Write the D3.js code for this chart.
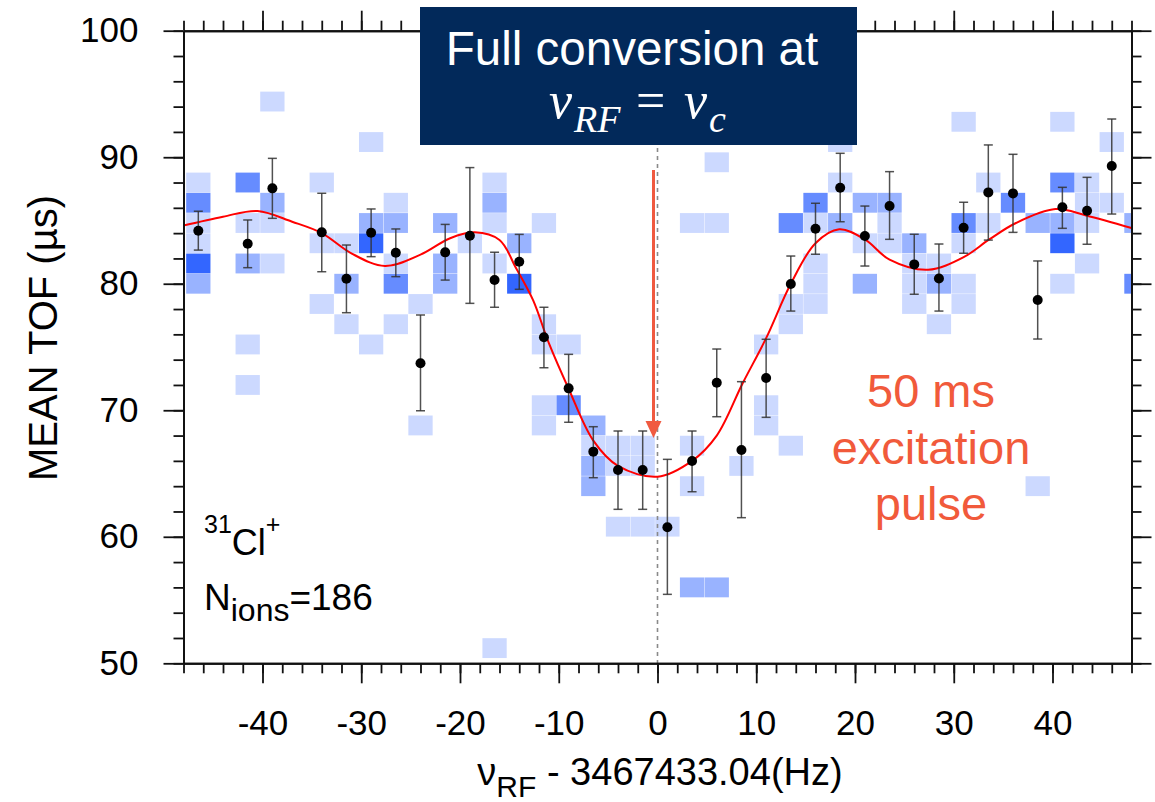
<!DOCTYPE html>
<html>
<head>
<meta charset="utf-8">
<script src="https://cdn.jsdelivr.net/npm/d3@7"></script>
<style>
  body { margin: 0; background: #ffffff; }
</style>
</head>
<body>
<svg id="chart" width="1155" height="802" font-family="Liberation Sans, Arial, Helvetica, sans-serif"></svg>
<script>
// ---- Mean time of flight per RF frequency step (with 1-sigma bars) ----
const pointFreq = [-46.5, -41.5, -39, -34, -31.5, -29, -26.5, -24, -21.5, -19, -16.5, -14, -11.5, -9, -6.5, -4, -1.5, 1,
                   3.5, 6, 8.5, 11, 13.5, 16, 18.5, 21, 23.5, 26, 28.5, 31, 33.5, 36, 38.5, 41, 43.5, 46];
const pointTof  = [84.19, 83.16, 87.54, 84.06, 80.40, 84.03, 82.45, 73.71, 82.48, 83.80, 80.29, 81.74, 75.77, 71.73, 66.73, 65.28, 65.28, 60.75,
                   65.99, 72.18, 66.86, 72.55, 79.98, 84.35, 87.59, 83.77, 86.14, 81.53, 80.42, 84.43, 87.22, 87.14, 78.71, 86.04, 85.77, 89.30];
const errLow    = [82.66, 81.27, 85.17, 80.95, 77.71, 82.14, 80.56, 69.96, 80.29, 78.45, 78.14, 79.56, 73.36, 69.05, 64.67, 62.17, 62.17, 55.45,
                   63.56, 69.49, 61.51, 69.44, 77.84, 82.33, 84.90, 81.40, 83.51, 79.17, 77.84, 82.41, 83.45, 84.06, 75.63, 84.38, 83.12, 85.51];
const errHigh   = [85.73, 85.04, 89.91, 87.15, 83.06, 85.91, 84.33, 77.53, 84.69, 89.18, 82.49, 83.90, 78.14, 74.42, 68.70, 68.36, 68.36, 66.12,
                   68.36, 74.84, 72.26, 75.61, 82.19, 86.36, 90.31, 86.14, 88.86, 83.91, 83.14, 86.44, 90.97, 90.23, 81.80, 87.62, 88.41, 93.02];

// ---- Fitted resonance line ----
const fitFreq = [-48, -44, -40.5, -37, -34, -31, -27.6, -24, -21, -18.5, -16, -14.3, -12.6, -11, -9, -6.5, -4, 0,
                 3.5, 6, 8.6, 11, 13.5, 16, 18.4, 21, 23.5, 27.4, 31, 33.6, 36.3, 40.3, 43.4, 48];
const fitTof  = [84.6, 85.3, 85.75, 84.9, 84.0, 82.4, 81.4, 82.3, 83.6, 84.06, 83.45, 81.2, 78.7, 75.3, 71.7, 67.6, 65.6, 64.75,
                 66.0, 68.0, 72.1, 75.7, 80.0, 83.2, 84.3, 83.5, 81.9, 81.1, 82.1, 83.5, 84.8, 85.9, 85.4, 84.4];

// ---- Single-ion TOF histogram (2.5 Hz x 1.6 us bins, ion counts) ----
const cellFreq = [
  -46.5, -46.5, -46.5, -46.5, -46.5, -46.5,
  -41.5, -41.5, -41.5, -41.5, -41.5,
  -39, -39, -39, -39,
  -34, -34, -34,
  -31.5, -31.5, -31.5,
  -29, -29, -29, -29,
  -26.5, -26.5, -26.5, -26.5, -26.5,
  -24, -24,
  -21.5, -21.5, -21.5,
  -19,
  -16.5, -16.5, -16.5, -16.5, -16.5,
  -14, -14,
  -11.5, -11.5, -11.5, -11.5, -11.5,
  -9, -9,
  -6.5, -6.5, -6.5, -6.5,
  -4, -4, -4,
  -1.5, -1.5, -1.5,
  1,
  3.5, 3.5, 3.5, 3.5,
  6, 6, 6,
  8.5,
  11, 11, 11,
  13.5, 13.5, 13.5, 13.5,
  16, 16, 16, 16, 16,
  18.5, 18.5, 18.5,
  21, 21, 21,
  23.5, 23.5, 23.5,
  26, 26, 26, 26,
  28.5, 28.5, 28.5,
  31, 31, 31, 31, 31,
  33.5, 33.5,
  36,
  38.5, 38.5,
  41, 41, 41, 41, 41,
  43.5, 43.5, 43.5, 43.5,
  46, 46,
  48.5, 48.5
];
const cellTof = [
  88.0, 86.4, 84.8, 83.2, 81.6, 80.0,
  88.0, 84.8, 81.6, 75.2, 72.0,
  94.4, 86.4, 84.8, 81.6,
  88.0, 83.2, 78.4,
  83.2, 80.0, 76.8,
  91.2, 84.8, 83.2, 75.2,
  86.4, 84.8, 81.6, 80.0, 76.8,
  78.4, 68.8,
  84.8, 81.6, 80.0,
  83.2,
  88.0, 86.4, 84.8, 81.6, 51.2,
  83.2, 80.0,
  84.8, 76.8, 75.2, 70.4, 68.8,
  75.2, 70.4,
  68.8, 67.2, 65.6, 64.0,
  67.2, 65.6, 60.8,
  67.2, 65.6, 60.8,
  60.8,
  84.8, 67.2, 64.0, 56.0,
  89.6, 84.8, 56.0,
  65.6,
  75.2, 70.4, 68.8,
  84.8, 78.4, 76.8, 67.2,
  86.4, 84.8, 81.6, 80.0, 78.4,
  91.2, 88.0, 84.8,
  86.4, 83.2, 80.0,
  86.4, 84.8, 83.2,
  83.2, 81.6, 80.0, 78.4,
  81.6, 80.0, 76.8,
  92.8, 84.8, 83.2, 80.0, 78.4,
  88.0, 84.8,
  86.4,
  84.8, 64.0,
  92.8, 88.0, 84.8, 83.2, 80.0,
  88.0, 86.4, 84.8, 81.6,
  91.2, 86.4,
  84.8, 80.0
];
const cellCount = [
  1, 3, 1, 1, 4, 2,
  3, 1, 2, 1, 1,
  1, 2, 1, 1,
  1, 1, 1,
  1, 2, 1,
  1, 2, 4, 1,
  1, 2, 1, 3, 1,
  1, 1,
  2, 2, 2,
  1,
  1, 2, 1, 1, 1,
  2, 4,
  1, 1, 1, 1, 1,
  1, 3,
  2, 1, 2, 2,
  1, 1, 1,
  1, 1, 1,
  1,
  1, 1, 1, 2,
  1, 1, 2,
  1,
  1, 1, 1,
  3, 1, 1, 1,
  3, 1, 1, 1, 1,
  1, 1, 2,
  2, 1, 2,
  2, 1, 1,
  2, 1, 1, 1,
  1, 2, 1,
  1, 3, 1, 1, 1,
  1, 1,
  3,
  2, 1,
  1, 3, 2, 4, 1,
  1, 1, 1, 1,
  1, 1,
  2, 3
];
const freqBinWidth = 2.5;
const tofBinWidth = 1.6;

// ---- Axis ticks ----
const xMajorTicks = [-40, -30, -20, -10, 0, 10, 20, 30, 40];
const xMinorTicks = d3.range(-48, 48.01, 2);
const yMajorTicks = [50, 60, 70, 80, 90, 100];
const yMinorTicks = d3.range(50, 100.01, 2);

// ---- Layout ----
const svg = d3.select("#chart");
const plotLeft = 183.5, plotRight = 1131.5, plotTop = 30.7, plotBottom = 663.3;

const x = d3.scaleLinear().domain([-48, 48]).range([plotLeft, plotRight]);
const y = d3.scaleLinear().domain([50, 100]).range([plotBottom, plotTop]);

svg.append("defs").append("clipPath").attr("id", "plotClip")
  .append("rect").attr("x", plotLeft).attr("y", plotTop)
  .attr("width", plotRight - plotLeft).attr("height", plotBottom - plotTop);

// ---- Histogram cells ----
const cellColor = c => d3.interpolateRgb("#ffffff", "#0040ff")(Math.min(c, 5) * 0.2);
const cells = cellFreq.map((f, i) => ({ f, t: cellTof[i], c: cellCount[i] }));
const inset = 0.2;
svg.append("g").attr("clip-path", "url(#plotClip)")
  .selectAll("rect").data(cells).join("rect")
  .attr("x", d => x(d.f - freqBinWidth / 2) + inset)
  .attr("width", d => x(d.f + freqBinWidth / 2) - x(d.f - freqBinWidth / 2) - 2 * inset)
  .attr("y", d => y(d.t + tofBinWidth / 2) + inset)
  .attr("height", d => y(d.t - tofBinWidth / 2) - y(d.t + tofBinWidth / 2) - 2 * inset)
  .attr("fill", d => cellColor(d.c));

// ---- Centre-frequency marker ----
svg.append("line")
  .attr("x1", x(0)).attr("x2", x(0))
  .attr("y1", 140).attr("y2", plotBottom)
  .attr("stroke", "#8a8a8a").attr("stroke-width", 1.6).attr("stroke-dasharray", "4,4");

// ---- Fit line ----
const fitLine = d3.line().x(d => x(d[0])).y(d => y(d[1])).curve(d3.curveCatmullRom.alpha(0.5));
svg.append("path")
  .datum(fitFreq.map((f, i) => [f, fitTof[i]]))
  .attr("d", fitLine)
  .attr("fill", "none").attr("stroke", "#ff0000").attr("stroke-width", 2);

// ---- Error bars and points ----
const pts = pointFreq.map((f, i) => ({ f, v: pointTof[i], lo: errLow[i], hi: errHigh[i] }));
const eb = svg.append("g").attr("stroke", "#333333").attr("stroke-width", 1.5).attr("stroke-opacity", 0.85);
eb.selectAll("line.v").data(pts).join("line").attr("class", "v")
  .attr("x1", d => x(d.f)).attr("x2", d => x(d.f)).attr("y1", d => y(d.lo)).attr("y2", d => y(d.hi));
eb.selectAll("line.h").data(pts).join("line").attr("class", "h")
  .attr("x1", d => x(d.f) - 4.5).attr("x2", d => x(d.f) + 4.5).attr("y1", d => y(d.hi)).attr("y2", d => y(d.hi));
eb.selectAll("line.l").data(pts).join("line").attr("class", "l")
  .attr("x1", d => x(d.f) - 4.5).attr("x2", d => x(d.f) + 4.5).attr("y1", d => y(d.lo)).attr("y2", d => y(d.lo));
svg.append("g").selectAll("circle").data(pts).join("circle")
  .attr("cx", d => x(d.f)).attr("cy", d => y(d.v)).attr("r", 5).attr("fill", "#000000");

// ---- Axes (ticks outward on all four sides) ----
function styleAxis(g) {
  g.attr("font-family", null);
  g.selectAll(".domain").attr("stroke", "#111").attr("stroke-width", 2);
  g.selectAll(".tick line").attr("stroke", "#111").attr("stroke-width", 1.8);
  g.selectAll(".tick text").attr("fill", "#000").attr("font-size", 35);
}
const fmt = d => d3.format("d")(d).replace("\u2212", "-");

svg.append("g").attr("transform", `translate(0,${plotBottom})`)
  .call(d3.axisBottom(x).tickValues(xMinorTicks).tickSize(10).tickSizeOuter(0).tickFormat(""))
  .call(styleAxis);
svg.append("g").attr("transform", `translate(0,${plotBottom})`)
  .call(d3.axisBottom(x).tickValues(xMajorTicks).tickSize(20).tickSizeOuter(0).tickPadding(27).tickFormat(fmt))
  .call(styleAxis);
svg.append("g").attr("transform", `translate(0,${plotTop})`)
  .call(d3.axisTop(x).tickValues(xMinorTicks).tickSize(10).tickSizeOuter(0).tickFormat(""))
  .call(styleAxis);
svg.append("g").attr("transform", `translate(0,${plotTop})`)
  .call(d3.axisTop(x).tickValues(xMajorTicks).tickSize(20).tickSizeOuter(0).tickFormat(""))
  .call(styleAxis);
svg.append("g").attr("transform", `translate(${plotLeft},0)`)
  .call(d3.axisLeft(y).tickValues(yMinorTicks).tickSize(10).tickSizeOuter(0).tickFormat(""))
  .call(styleAxis);
svg.append("g").attr("transform", `translate(${plotLeft},0)`)
  .call(d3.axisLeft(y).tickValues(yMajorTicks).tickSize(20).tickSizeOuter(0).tickPadding(25).tickFormat(fmt))
  .call(styleAxis);
svg.append("g").attr("transform", `translate(${plotRight},0)`)
  .call(d3.axisRight(y).tickValues(yMinorTicks).tickSize(10).tickSizeOuter(0).tickFormat(""))
  .call(styleAxis);
svg.append("g").attr("transform", `translate(${plotRight},0)`)
  .call(d3.axisRight(y).tickValues(yMajorTicks).tickSize(20).tickSizeOuter(0).tickFormat(""))
  .call(styleAxis);

// ---- Axis titles ----
svg.append("text")
  .attr("transform", "translate(57,338) rotate(-90)")
  .attr("text-anchor", "middle").attr("font-size", 40).attr("fill", "#000")
  .text("MEAN TOF (\u00b5s)");

const xt = svg.append("text").attr("x", 660).attr("y", 785)
  .attr("text-anchor", "middle").attr("font-size", 38).attr("fill", "#000");
xt.append("tspan").text("\u03bd");
xt.append("tspan").attr("font-size", 30).attr("dy", 12).text("RF");
xt.append("tspan").attr("dy", -12).text(" - 3467433.04(Hz)");

// ---- Species / statistics labels ----
const sp = svg.append("text").attr("x", 204).attr("y", 555).attr("fill", "#000").attr("font-size", 36);
sp.append("tspan").attr("font-size", 25).attr("dy", -22).text("31");
sp.append("tspan").attr("dy", 22).text("Cl");
sp.append("tspan").attr("font-size", 25).attr("dy", -22).text("+");

const ni = svg.append("text").attr("x", 204).attr("y", 610).attr("fill", "#000").attr("font-size", 37);
ni.append("tspan").text("N");
ni.append("tspan").attr("font-size", 32).attr("dy", 11).text("ions");
ni.append("tspan").attr("dy", -11).text("=186");

// ---- Excitation note ----
const note = svg.append("text").attr("text-anchor", "middle").attr("fill", "#f15a3b").attr("font-size", 47);
[["50 ms", 407], ["excitation", 464], ["pulse", 520]].forEach(([s, yy]) =>
  note.append("tspan").attr("x", 931).attr("y", yy).text(s));

// ---- Arrow to the minimum ----
const ax = x(0) - 4;
svg.append("line").attr("x1", ax).attr("x2", ax).attr("y1", 170).attr("y2", 424)
  .attr("stroke", "#f05a40").attr("stroke-width", 3);
svg.append("path")
  .attr("d", `M${ax - 8},${421} L${ax + 8},${421} L${ax},${438} Z`)
  .attr("fill", "#f05a40");

// ---- Conversion callout ----
svg.append("rect").attr("x", 420).attr("y", 7).attr("width", 437).attr("height", 138)
  .attr("fill", "#02295a");
svg.append("text").attr("x", 632).attr("y", 65).attr("text-anchor", "middle")
  .attr("fill", "#ffffff").attr("font-size", 47.5).text("Full conversion at");

const mathFont = "Liberation Serif, DejaVu Serif, serif";
function mathPiece(s, xx, yy, size, italic) {
  svg.append("text").attr("x", xx).attr("y", yy).attr("fill", "#ffffff")
    .attr("font-family", mathFont).attr("font-size", size)
    .attr("font-style", italic ? "italic" : "normal").text(s);
}
mathPiece("\u03bd", 549, 118, 52, true);
mathPiece("RF", 574, 132, 38, true);
mathPiece("=", 636, 118, 52, false);
mathPiece("\u03bd", 684, 118, 52, true);
mathPiece("c", 709, 132, 38, true);
</script>
</body>
</html>
